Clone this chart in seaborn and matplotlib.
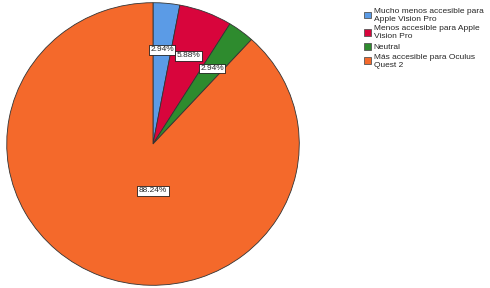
import numpy as np
import pandas as pd
import matplotlib
matplotlib.use('Agg')
import matplotlib.pyplot as plt
import seaborn as sns

sns.set_style("white")
plt.rcParams['font.family'] = ['Liberation Sans', 'DejaVu Sans']

# data
categories = ['Mucho menos accesible para\nApple Vision Pro',
              'Menos accesible para Apple\nVision Pro',
              'Neutral',
              'Más accesible para Oculus\nQuest 2']
percentages = [2.94, 5.88, 2.94, 88.24]
colors = ['#5b9be6', '#d8053c', '#2e8b2e', '#f4692b']

df = pd.DataFrame({'categoria': categories, 'pct': percentages})

fig = plt.figure(figsize=(4.9, 2.88), dpi=100)
ax = fig.add_axes([6 / 490, 2 / 288, 294 / 490, 284 / 288])

wedges, texts, autotexts = ax.pie(df['pct'], colors=colors, startangle=90, counterclock=False,
                                  autopct=lambda p: f'{p:.2f}%', pctdistance=0.67,
                                  wedgeprops=dict(edgecolor='#333333', linewidth=0.6),
                                  textprops=dict(fontsize=6))
ax.set_aspect('auto')
ax.set_xlim(-1.005, 1.005)
ax.set_ylim(-1.005, 1.005)

for t in autotexts:
    t.set_bbox(dict(facecolor='white', edgecolor='black', linewidth=0.5, pad=1.0))

# big slice label sits just below the centre in the original
autotexts[3].set_position((0, -0.33))

leg = ax.legend(wedges, df['categoria'], loc='upper left', bbox_to_anchor=(352 / 294, 1.0),
                frameon=False, fontsize=6, handlelength=0.9, handleheight=0.9,
                handletextpad=0.3, labelspacing=0.3, borderpad=0.2)
for h in leg.legend_handles:
    h.set_edgecolor('#555555')

fig.savefig('out.png', dpi=100)
